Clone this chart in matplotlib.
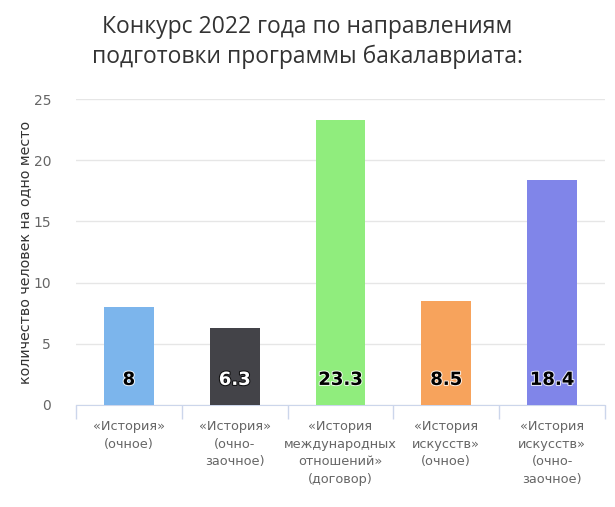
import matplotlib
matplotlib.use('Agg')
import matplotlib.pyplot as plt
import matplotlib.patheffects as pe

plt.rcParams['font.family'] = ['DejaVu Sans']

categories = ['«История»\n(очное)', '«История»\n(очно-\nзаочное)',
              '«История\nмеждународных\nотношений»\n(договор)',
              '«История\nискусств»\n(очное)', '«История\nискусств»\n(очно-\nзаочное)']
values = [8, 6.3, 23.3, 8.5, 18.4]
labels = ['8', '6.3', '23.3', '8.5', '18.4']
colors = ['#7cb5ec', '#434348', '#90ed7d', '#f7a35c', '#8085e9']

fig = plt.figure(figsize=(6.15, 5.07), dpi=100)
ax = fig.add_axes([0.1236, 0.2012, 0.8601, 0.6035])

x = range(len(values))
ax.bar(x, values, width=0.47, color=colors, zorder=3)

for i, (v, lab) in enumerate(zip(values, labels)):
    dark = colors[i] == '#434348'
    ax.text(i, 2.05, lab, ha='center', va='center', fontsize=13, fontweight='bold',
            color='white' if dark else 'black', zorder=4,
            path_effects=[pe.withStroke(linewidth=1.5, foreground='black' if dark else 'white', alpha=0.8)])

ax.set_xlim(-0.5, len(values) - 0.5)
ax.set_ylim(0, 25)
ax.set_yticks([0, 5, 10, 15, 20, 25])
ax.yaxis.grid(True, color='#e6e6e6', linewidth=1, zorder=0)
ax.tick_params(axis='y', length=0, pad=18, labelsize=10, labelcolor='#666666')

ax.set_xticks([i - 0.5 for i in range(len(values) + 1)], minor=False)
ax.set_xticklabels([])
ax.tick_params(axis='x', length=10, color='#ccd6eb', width=1)
ax.set_xticks(list(x), minor=True)
ax.set_xticklabels(categories, minor=True, fontsize=9.3, color='#666666', linespacing=1.45)
ax.tick_params(axis='x', which='minor', length=0, pad=11)

for s in ['top', 'right', 'left']:
    ax.spines[s].set_visible(False)
ax.spines['bottom'].set_color('#ccd6eb')

ax.set_ylabel('количество человек на одно место', fontsize=10.3, color='#333333', labelpad=1)

fig.text(0.5, 0.918, 'Конкурс 2022 года по направлениям\nподготовки программы бакалавриата:',
         ha='center', va='center', fontsize=16.5, color='#333333', linespacing=1.3,
         family=['Open Sans', 'DejaVu Sans'])

fig.savefig('out.png', dpi=100)
